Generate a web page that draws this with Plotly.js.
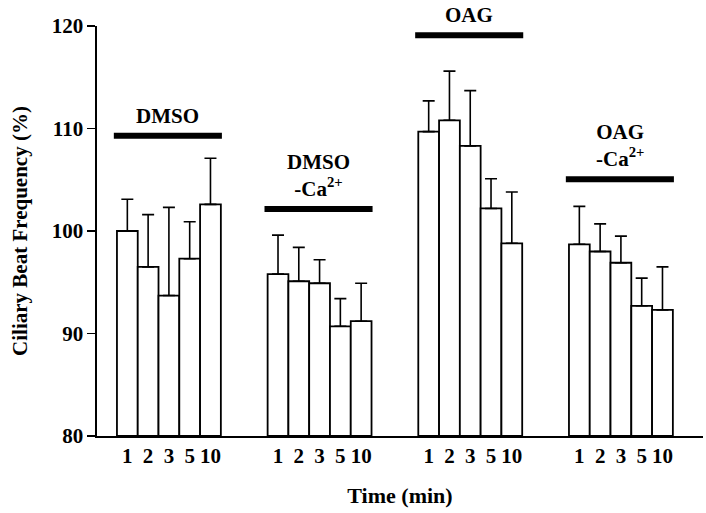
<!DOCTYPE html>
<html><head><meta charset="utf-8">
<script src="https://cdn.plot.ly/plotly-3.0.1.min.js"></script>
<style>html,body{margin:0;padding:0;background:#fff}</style>
</head><body><div id="chart" style="width:706px;height:513px"></div>
<script>
// Group names (treatment) and time points (min)
const groupNames = ['DMSO', 'DMSO<br>-Ca<sup>2+</sup>', 'OAG', 'OAG<br>-Ca<sup>2+</sup>'];
const timeLabels = ['1', '2', '3', '5', '10'];

// Ciliary beat frequency (%) means and upper error (SE) per group
const dmso       = [100.0, 96.5, 93.7, 97.3, 102.6];
const dmsoErr    = [3.1, 5.1, 8.6, 3.6, 4.5];
const dmsoCa     = [95.8, 95.1, 94.9, 90.7, 91.2];
const dmsoCaErr  = [3.8, 3.3, 2.3, 2.7, 3.7];
const oag        = [109.7, 110.8, 108.3, 102.2, 98.8];
const oagErr     = [3.0, 4.8, 5.4, 2.9, 5.0];
const oagCa      = [98.7, 98.0, 96.9, 92.7, 92.3];
const oagCaErr   = [3.7, 2.7, 2.6, 2.7, 4.2];

// Level (in % units) of the treatment bar drawn above each group
const treatmentLevels = [109.3, 102.15, 119.1, 105.05];

const means = [dmso, dmsoCa, oag, oagCa];
const errs  = [dmsoErr, dmsoCaErr, oagErr, oagCaErr];

const GROUP_STEP = 7.25;
const BASE = 80;
const FONT = '"Liberation Serif", "Times New Roman", Times, serif';

const xs = [], ys = [], es = [], tickVals = [], tickText = [];
means.forEach((g, gi) => {
  g.forEach((v, i) => {
    const x = gi * GROUP_STEP + i;
    xs.push(x); ys.push(v - BASE); es.push(errs[gi][i]);
    tickVals.push(x); tickText.push(timeLabels[i]);
  });
});

const trace = {
  type: 'bar', x: xs, y: ys, width: 1, base: BASE,
  marker: {color: '#ffffff', line: {color: '#000000', width: 1.8}},
  error_y: {type: 'data', symmetric: false, array: es, arrayminus: es.map(() => 0),
            color: '#000000', thickness: 1.6, width: 6},
  hoverinfo: 'none', showlegend: false
};

const shapes = [], annotations = [];
means.forEach((g, gi) => {
  const x0 = gi * GROUP_STEP - 0.5 - 0.15;
  const x1 = gi * GROUP_STEP + g.length - 0.5 + 0.05;
  shapes.push({type: 'line', xref: 'x', yref: 'y', x0: x0, x1: x1,
               y0: treatmentLevels[gi], y1: treatmentLevels[gi],
               line: {color: '#000', width: 6}});
  annotations.push({xref: 'x', yref: 'y', x: (x0 + x1) / 2, y: treatmentLevels[gi],
                    yanchor: 'bottom', xanchor: 'center', yshift: 6, showarrow: false,
                    text: '<b>' + groupNames[gi] + '</b>',
                    font: {family: FONT, size: 21, color: '#000'}});
});

const layout = {
  width: 706, height: 513,
  margin: {l: 97, r: 3, t: 26, b: 77, pad: 0},
  paper_bgcolor: '#fff', plot_bgcolor: '#fff',
  font: {family: FONT, size: 21, color: '#000', weight: 'bold'},
  xaxis: {
    range: [-1.46, 27.7], showgrid: false, zeroline: false,
    showline: true, linecolor: '#000', linewidth: 1.6,
    tickmode: 'array', tickvals: tickVals, ticktext: tickText, ticks: '',
    tickfont: {family: FONT, size: 21, color: '#000', weight: 'bold'},
    title: {text: 'Time (min)', standoff: 21,
            font: {family: FONT, size: 22, color: '#000', weight: 'bold'}}
  },
  yaxis: {
    range: [80, 120], showgrid: false, zeroline: false,
    showline: true, linecolor: '#000', linewidth: 1.6,
    tickmode: 'array', tickvals: [80, 90, 100, 110, 120],
    ticks: 'outside', ticklen: 8, tickwidth: 1.6, tickcolor: '#000',
    tickfont: {family: FONT, size: 21, color: '#000', weight: 'bold'},
    title: {text: 'Ciliary Beat Frequency (%)', standoff: 18,
            font: {family: FONT, size: 21, color: '#000', weight: 'bold'}}
  },
  shapes: shapes, annotations: annotations
};

Plotly.newPlot('chart', [trace], layout, {displayModeBar: false, staticPlot: true});
</script></body></html>
